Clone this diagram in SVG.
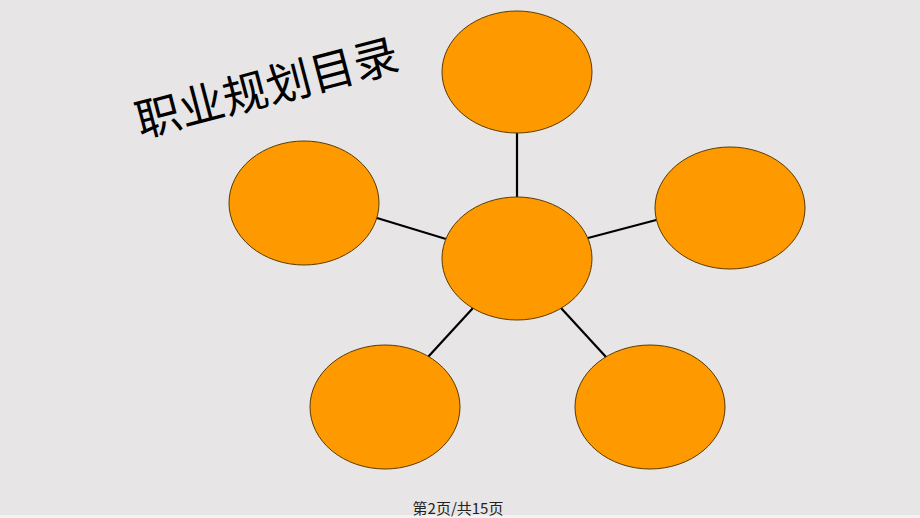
<svg xmlns="http://www.w3.org/2000/svg" width="920" height="518" viewBox="0 0 920 518">
<style>
.n{fill:#ff9900;stroke:#5a3a00;stroke-width:1}
.c line{stroke:#000;stroke-width:2.2}
.t{font-family:"Noto Sans CJK SC","Liberation Sans",sans-serif}
</style>
<rect width="920" height="518" fill="#e7e5e5"/>
<rect y="515" width="920" height="3" fill="#f4f3f3"/>
<g class="c" id="connectors">
<line x1="517" y1="133" x2="517" y2="197"/>
<line x1="377" y1="218" x2="446" y2="239"/>
<line x1="588" y1="238" x2="660" y2="219"/>
<line x1="473" y1="308" x2="428" y2="357"/>
<line x1="561" y1="308" x2="606" y2="357"/>
</g>
<g id="center"><ellipse class="n" cx="517" cy="258.5" rx="75" ry="61.5"/></g>
<g id="top"><ellipse class="n" cx="517" cy="72" rx="75" ry="61"/></g>
<g id="left"><ellipse class="n" cx="304" cy="203" rx="75" ry="62"/></g>
<g id="right"><ellipse class="n" cx="730" cy="208" rx="75" ry="61"/></g>
<g id="bottomleft"><ellipse class="n" cx="385" cy="407" rx="75" ry="62"/></g>
<g id="bottomright"><ellipse class="n" cx="650" cy="407" rx="75" ry="62"/></g>
<g id="title"><text class="t" x="267" y="104" font-size="45" text-anchor="middle" fill="#000" transform="rotate(-14.7 267 88)">职业规划目录</text></g>
<text class="t" x="458" y="514" font-size="15" text-anchor="middle" fill="#222">第2页/共15页</text>
</svg>
